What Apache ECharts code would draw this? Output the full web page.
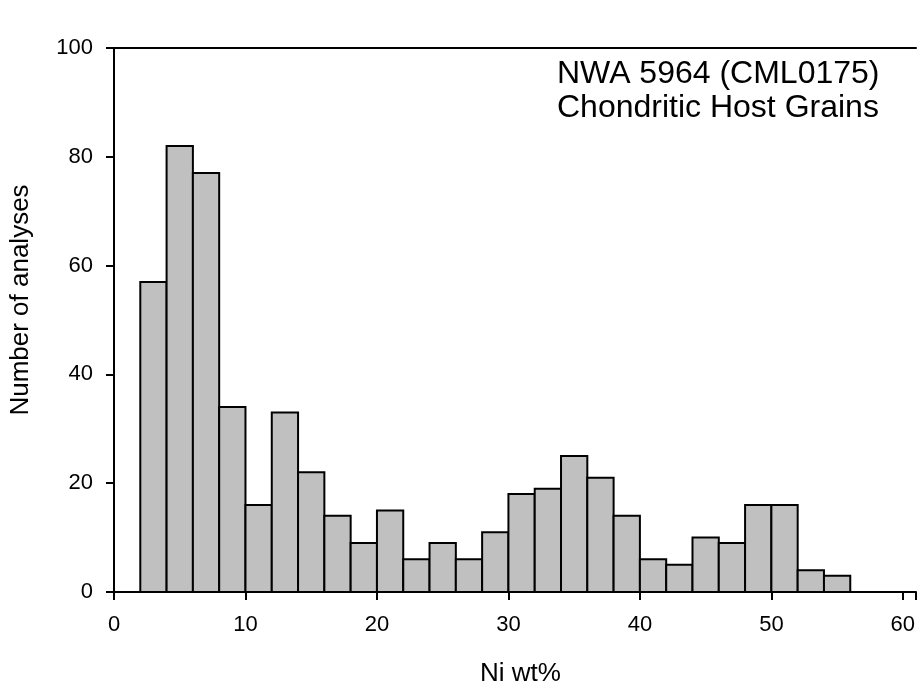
<!DOCTYPE html>
<html>
<head>
<meta charset="utf-8">
<script src="https://cdn.jsdelivr.net/npm/echarts@6/dist/echarts.min.js"></script>
<style>html,body{margin:0;padding:0;background:#fff;}#c{width:919px;height:692px;}</style>
</head>
<body>
<div id="c"></div>
<script>
// Histogram bins (Ni wt%), each 2 wt% wide
var binStarts = [2,4,6,8,10,12,14,16,18,20,22,24,26,28,30,32,34,36,38,40,42,44,46,48,50,52,54];
var binWidth = 2;
var counts = [57,82,77,34,16,33,22,14,9,15,6,9,6,11,18,19,25,21,14,6,5,10,9,16,16,4,3];
var xTicks = [0,10,20,30,40,50,60];
var yTicks = [0,20,40,60,80,100];
var annotation = ['NWA 5964 (CML0175)', 'Chondritic Host Grains'];

var data = binStarts.map(function (s, i) { return [s, s + binWidth, counts[i]]; });
var font = 'Liberation Sans, Arial, sans-serif';
var chart = echarts.init(document.getElementById('c'));
chart.setOption({
  animation: false,
  backgroundColor: '#fff',
  grid: { left: 113, right: 1, top: 48, bottom: 98, containLabel: false },
  xAxis: [{
    type: 'value', min: 0, max: 61, interval: 10,
    name: 'Ni wt%', nameLocation: 'middle', nameGap: 69,
    nameTextStyle: { fontFamily: font, fontSize: 26, color: '#000', padding: [0, 0, 0, 11] },
    axisLine: { show: true, lineStyle: { color: '#000', width: 2 } },
    axisTick: { show: true, inside: false, length: 8, lineStyle: { color: '#000', width: 2 } },
    axisLabel: { fontFamily: font, fontSize: 22, color: '#000', margin: 22,
      formatter: function (v) { return xTicks.indexOf(v) >= 0 ? String(v) : ''; } },
    splitLine: { show: false }
  }, {
    type: 'value', min: 0, max: 61, position: 'top',
    axisLine: { show: true, onZero: false, lineStyle: { color: '#000', width: 2 } },
    axisTick: { show: false }, axisLabel: { show: false }, splitLine: { show: false }
  }],
  yAxis: {
    type: 'value', min: 0, max: 100, interval: 20,
    name: 'Number of analyses', nameLocation: 'middle', nameGap: 80, nameRotate: 90,
    nameTextStyle: { fontFamily: font, fontSize: 26, color: '#000', padding: [0, 0, 0, 40] },
    axisLine: { show: true, lineStyle: { color: '#000', width: 2 } },
    axisTick: { show: true, inside: false, length: 8, lineStyle: { color: '#000', width: 2 } },
    axisLabel: { fontFamily: font, fontSize: 22, color: '#000', margin: 21,
      formatter: function (v) { return yTicks.indexOf(v) >= 0 ? String(v) : ''; } },
    splitLine: { show: false }
  },
  series: [{
    type: 'custom',
    xAxisIndex: 0,
    data: data,
    renderItem: function (params, api) {
      var p0 = api.coord([api.value(0), api.value(2)]);
      var p1 = api.coord([api.value(1), 0]);
      return {
        type: 'rect',
        shape: { x: p0[0], y: p0[1], width: p1[0] - p0[0], height: p1[1] - p0[1] },
        style: { fill: '#c0c0c0', stroke: '#000', lineWidth: 2 }
      };
    },
    z: 1
  }],
  graphic: [{
    type: 'text', left: 557, top: 57,
    style: { text: annotation.join('\n'), font: '32px ' + font, fill: '#000', lineHeight: 34 }
  }]
});
</script>
</body>
</html>
